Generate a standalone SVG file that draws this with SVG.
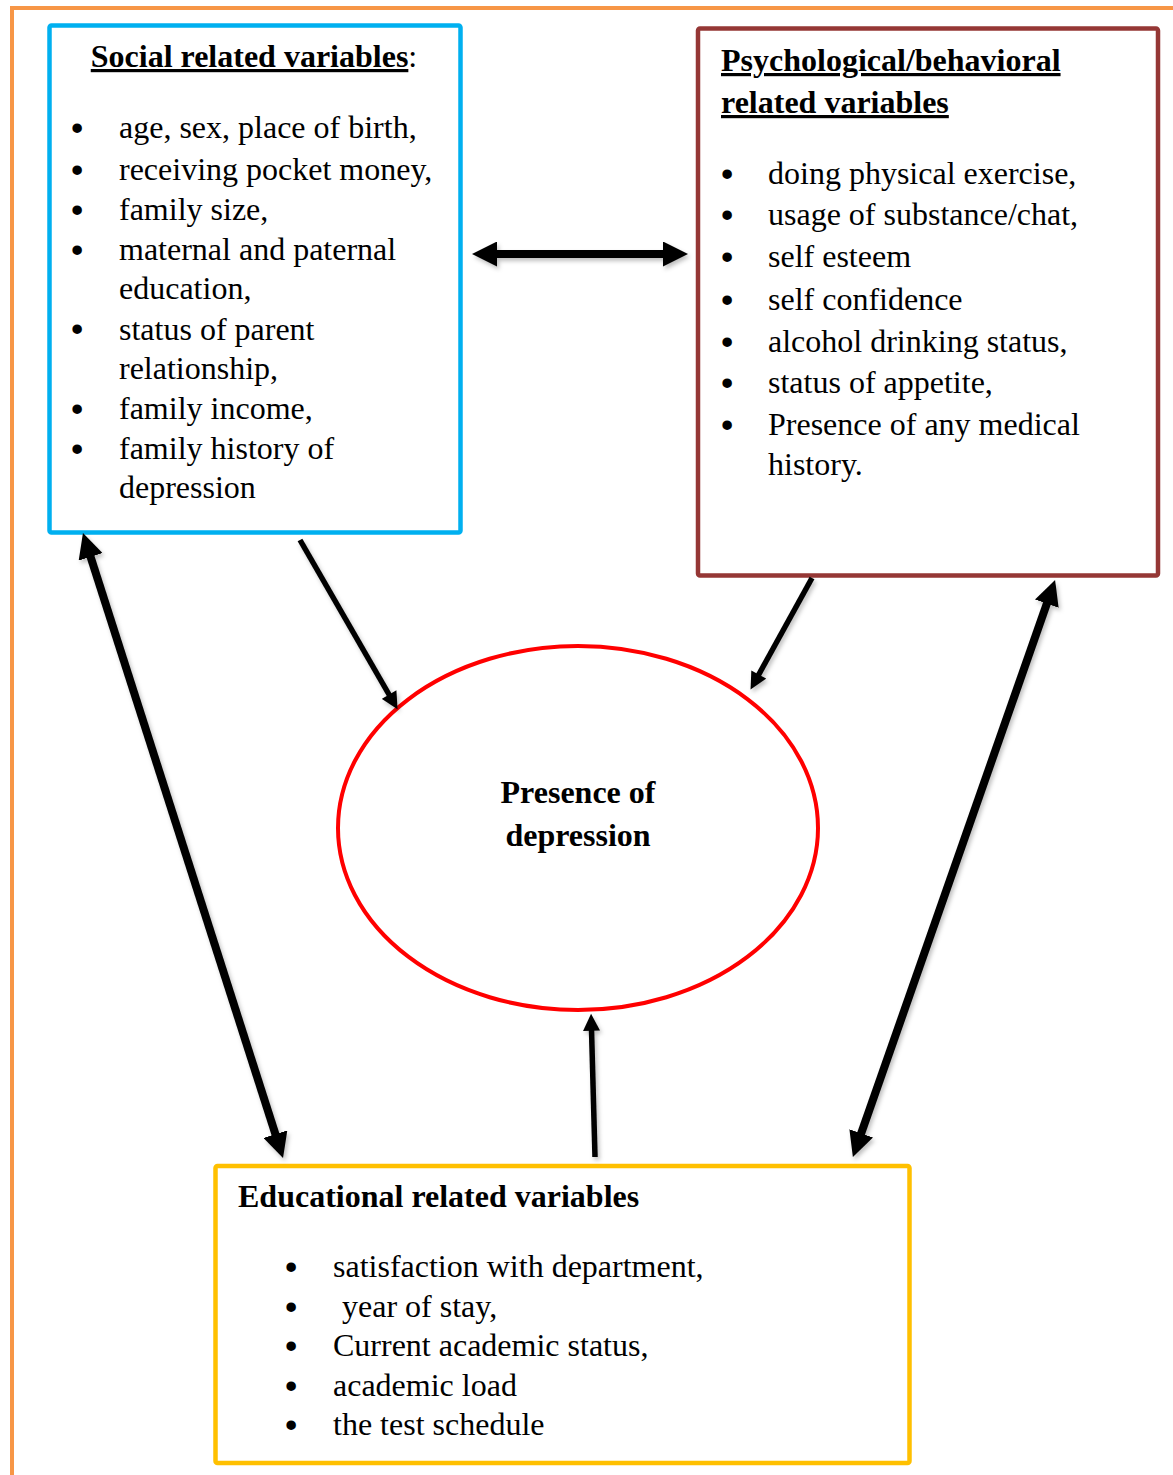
<svg xmlns="http://www.w3.org/2000/svg" width="1173" height="1475" viewBox="0 0 1173 1475">
<style>
text{font-family:"Liberation Serif","Times New Roman",serif;font-size:32px;fill:#000}
.b{font-weight:bold}
.u{text-decoration:underline}
.bul{font-family:"Liberation Sans",Arial,sans-serif;font-size:35px}
.box{fill:#fff;stroke-width:4.5}
.thick{stroke:#000;stroke-width:8;fill:none}
.thin{stroke:#000;stroke-width:5.5;fill:none}
</style>
<defs>
<filter id="sh" x="-20%" y="-20%" width="140%" height="140%">
<feDropShadow dx="2" dy="3" stdDeviation="2" flood-color="#000" flood-opacity="0.25"/>
</filter>
<marker id="hb" viewBox="0 0 10 10" refX="3" refY="5" markerWidth="25" markerHeight="25" markerUnits="userSpaceOnUse" orient="auto-start-reverse">
<path d="M0,0 L10,5 L0,10 z" fill="#000"/>
</marker>
<marker id="hs" viewBox="0 0 10 10" refX="3" refY="5" markerWidth="18" markerHeight="17" markerUnits="userSpaceOnUse" orient="auto">
<path d="M0,0 L10,5 L0,10 z" fill="#000"/>
</marker>
</defs>
<rect width="1173" height="1475" fill="#fff"/>
<path d="M12,1475 V8 H1173" fill="none" stroke="#F79646" stroke-width="4"/>

<g id="social">
<rect class="box" x="49.5" y="25.5" width="411" height="507" rx="2" stroke="#00B0F0"/>
<text x="254" y="67" text-anchor="middle" class="b"><tspan class="u">Social related variables</tspan><tspan font-weight="normal">:</tspan></text>
<text class="bul" x="71" y="140">•</text><text class="bul" x="71" y="182">•</text><text class="bul" x="71" y="222">•</text><text class="bul" x="71" y="262">•</text><text class="bul" x="71" y="341">•</text><text class="bul" x="71" y="421">•</text><text class="bul" x="71" y="461">•</text>
<text x="119" y="138">age, sex, place of birth,</text>
<text x="119" y="180">receiving pocket money,</text>
<text x="119" y="220">family size,</text>
<text x="119" y="260">maternal and paternal</text>
<text x="119" y="299">education,</text>
<text x="119" y="340">status of parent</text>
<text x="119" y="379">relationship,</text>
<text x="119" y="419">family income,</text>
<text x="119" y="459">family history of</text>
<text x="119" y="498">depression</text>
</g>

<g id="psych">
<rect class="box" x="698" y="28.5" width="460" height="547" rx="2" stroke="#953735"/>
<text x="721" y="71" class="b u">Psychological/behavioral</text>
<text x="721" y="113" class="b u">related variables</text>
<text class="bul" x="721" y="186">•</text><text class="bul" x="721" y="227">•</text><text class="bul" x="721" y="269">•</text><text class="bul" x="721" y="312">•</text><text class="bul" x="721" y="354">•</text><text class="bul" x="721" y="395">•</text><text class="bul" x="721" y="437">•</text>
<text x="768" y="184">doing physical exercise,</text>
<text x="768" y="225">usage of substance/chat,</text>
<text x="768" y="267">self esteem</text>
<text x="768" y="310">self confidence</text>
<text x="768" y="352">alcohol drinking status,</text>
<text x="768" y="393">status of appetite,</text>
<text x="768" y="435">Presence of any medical</text>
<text x="768" y="475">history.</text>
</g>

<g id="depression">
<ellipse cx="578" cy="828" rx="240" ry="182" fill="none" stroke="#FF0000" stroke-width="4"/>
<text x="578" y="803" text-anchor="middle" class="b">Presence of</text>
<text x="578" y="846" text-anchor="middle" class="b">depression</text>
</g>

<g id="educational">
<rect class="box" x="215.5" y="1166" width="694" height="297" rx="2" stroke="#FFC000"/>
<text x="238" y="1207" class="b">Educational related variables</text>
<text class="bul" x="285" y="1279">•</text><text class="bul" x="285" y="1319">•</text><text class="bul" x="285" y="1358">•</text><text class="bul" x="285" y="1398">•</text><text class="bul" x="285" y="1437">•</text>
<text x="333" y="1277">satisfaction with department,</text>
<text x="342" y="1317">year of stay,</text>
<text x="333" y="1356">Current academic status,</text>
<text x="333" y="1396">academic load</text>
<text x="333" y="1435">the test schedule</text>
</g>

<g id="connectors" filter="url(#sh)">
<line class="thick" x1="489.5" y1="254" x2="670.5" y2="254" marker-start="url(#hb)" marker-end="url(#hb)"/>
<line class="thick" x1="88.3" y1="549.7" x2="277.7" y2="1141.3" marker-start="url(#hb)" marker-end="url(#hb)"/>
<line class="thick" x1="1049.3" y1="596.6" x2="858.7" y2="1140.4" marker-start="url(#hb)" marker-end="url(#hb)"/>
<line class="thin" x1="300" y1="540" x2="391.6" y2="699" marker-end="url(#hs)"/>
<line class="thin" x1="812" y1="578" x2="756.3" y2="679" marker-end="url(#hs)"/>
<line class="thin" x1="595" y1="1157" x2="591.4" y2="1025.6" marker-end="url(#hs)"/>
</g>
</svg>
